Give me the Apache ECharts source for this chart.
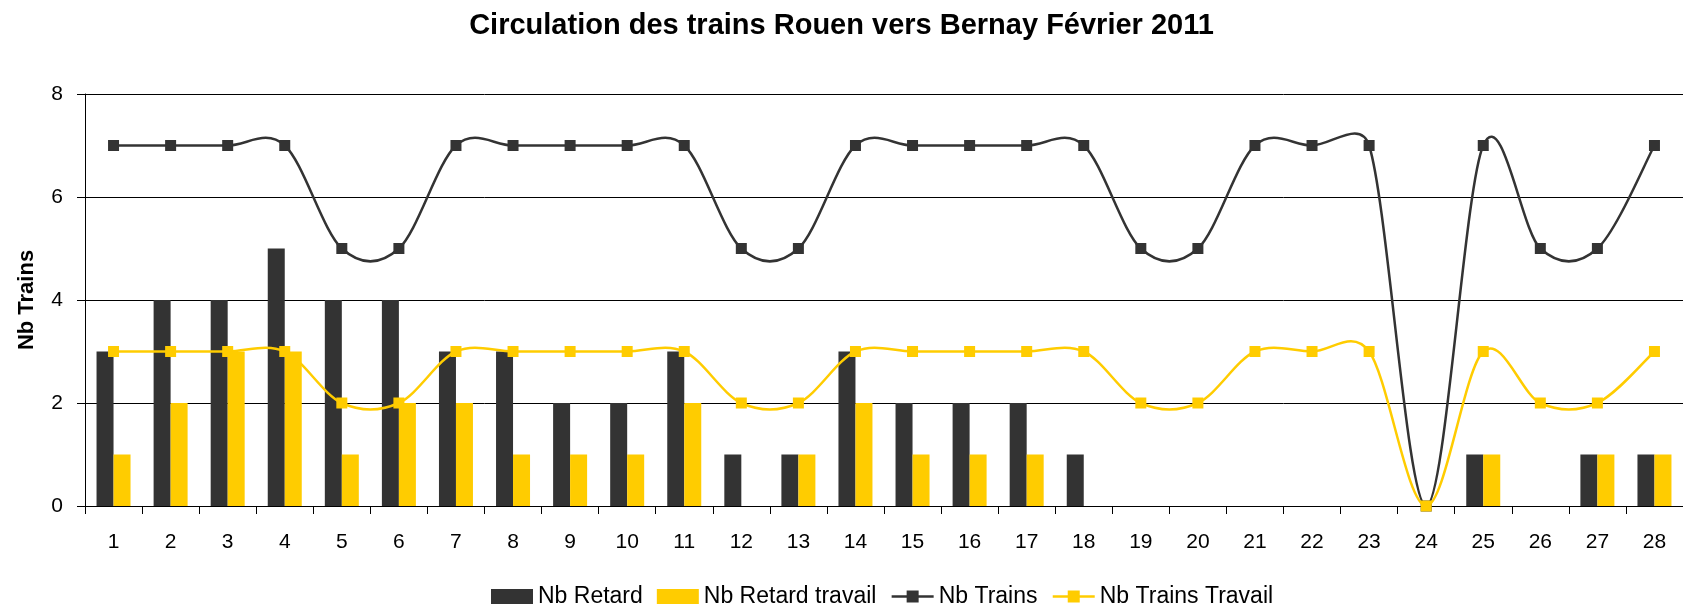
<!DOCTYPE html>
<html>
<head>
<meta charset="utf-8">
<script src="https://cdn.jsdelivr.net/npm/echarts@6/dist/echarts.min.js"></script>
<style>
html,body{margin:0;padding:0;background:#fff;}
#chart{width:1683px;height:607px;}
</style>
</head>
<body>
<div id="chart"></div>
<script>
var days = ['1','2','3','4','5','6','7','8','9','10','11','12','13','14','15','16','17','18','19','20','21','22','23','24','25','26','27','28'];
var nbRetard        = [3,4,4,5,4,4,3,3,2,2,3,1,1,3,2,2,2,1,0,0,0,0,0,0,1,0,1,1];
var nbRetardTravail = [1,2,3,3,1,2,2,1,1,1,2,0,1,2,1,1,1,0,0,0,0,0,0,0,1,0,1,1];
var nbTrains        = [7,7,7,7,5,5,7,7,7,7,7,5,5,7,7,7,7,7,5,5,7,7,7,0,7,5,5,7];
var nbTrainsTravail = [3,3,3,3,2,2,3,3,3,3,3,2,2,3,3,3,3,3,2,2,3,3,3,0,3,2,2,3];
var yTicks = [0,2,4,6,8];

var FONT = 'Liberation Sans, Arial, sans-serif';
var DARK = '#333333';
var YELLOW = '#FFCC00';

// Excel-like smoothed segment from point i to i+1, positioned by the chart's own scales
function clampVec(vx, vy, maxLen) {
  var len = Math.sqrt(vx * vx + vy * vy);
  if (len > maxLen && len > 0) {
    var s = maxLen / len;
    return [vx * s, vy * s];
  }
  return [vx, vy];
}
function smoothSegment(values, color) {
  return function (params, api) {
    var i = params.dataIndex;
    var n = values.length;
    if (i >= n - 1) return null;
    var p0 = api.coord([Math.max(i - 1, 0), values[Math.max(i - 1, 0)]]);
    var p1 = api.coord([i, values[i]]);
    var p2 = api.coord([i + 1, values[i + 1]]);
    var p3 = api.coord([Math.min(i + 2, n - 1), values[Math.min(i + 2, n - 1)]]);
    var segLen = Math.sqrt((p2[0] - p1[0]) * (p2[0] - p1[0]) + (p2[1] - p1[1]) * (p2[1] - p1[1]));
    var maxLen = segLen * 0.5;
    var a = clampVec((p2[0] - p0[0]) / 6, (p2[1] - p0[1]) / 6, maxLen);
    var b = clampVec((p3[0] - p1[0]) / 6, (p3[1] - p1[1]) / 6, maxLen);
    return {
      type: 'bezierCurve',
      shape: {
        x1: p1[0], y1: p1[1],
        cpx1: p1[0] + a[0], cpy1: p1[1] + a[1],
        cpx2: p2[0] - b[0], cpy2: p2[1] - b[1],
        x2: p2[0], y2: p2[1]
      },
      style: {stroke: color, lineWidth: 2.5, fill: null}
    };
  };
}

var legendIconStyle = function (color) {
  return {lineStyle: {color: color, width: 2.5, opacity: 1}};
};

var chart = echarts.init(document.getElementById('chart'));
chart.setOption({
  animation: false,
  backgroundColor: '#ffffff',
  title: {
    text: 'Circulation des trains Rouen vers Bernay Février 2011',
    left: 'center',
    top: 6,
    textStyle: {fontFamily: FONT, fontSize: 29, fontWeight: 'bold', color: '#000'}
  },
  legend: {
    left: 486,
    top: 580,
    itemGap: 14,
    itemWidth: 42,
    itemHeight: 15,
    textStyle: {fontFamily: FONT, fontSize: 23, color: '#000'},
    data: [
      {name: 'Nb Retard', icon: 'rect'},
      {name: 'Nb Retard travail', icon: 'rect'},
      Object.assign({name: 'Nb Trains'}, legendIconStyle(DARK)),
      Object.assign({name: 'Nb Trains Travail'}, legendIconStyle(YELLOW))
    ]
  },
  grid: {left: 85, right: 0, top: 94, bottom: 101, containLabel: false},
  xAxis: {
    type: 'category',
    data: days,
    boundaryGap: true,
    axisLine: {show: true, lineStyle: {color: '#000', width: 1}},
    axisTick: {show: true, length: 8, lineStyle: {color: '#000'}},
    axisLabel: {fontFamily: FONT, fontSize: 21, color: '#000', margin: 26, interval: 0}
  },
  yAxis: {
    type: 'value',
    min: yTicks[0],
    max: yTicks[yTicks.length - 1],
    interval: 2,
    name: 'Nb Trains',
    nameLocation: 'middle',
    nameGap: 47,
    nameTextStyle: {fontFamily: FONT, fontSize: 22, fontWeight: 'bold', color: '#000'},
    axisLine: {show: true, lineStyle: {color: '#000', width: 1}},
    axisTick: {show: true, length: 8, lineStyle: {color: '#000'}},
    axisLabel: {fontFamily: FONT, fontSize: 21, color: '#000', margin: 22},
    splitLine: {show: true, lineStyle: {color: '#000', width: 1}}
  },
  series: [
    {
      name: 'Nb Retard', type: 'bar', data: nbRetard,
      barWidth: 17, barGap: '0%',
      itemStyle: {color: DARK}
    },
    {
      name: 'Nb Retard travail', type: 'bar', data: nbRetardTravail,
      barWidth: 17, barGap: '0%',
      itemStyle: {color: YELLOW}
    },
    {
      name: 'Nb Trains courbe', type: 'custom', data: nbTrains,
      renderItem: smoothSegment(nbTrains, DARK), z: 3, silent: true
    },
    {
      name: 'Nb Trains', type: 'line', data: nbTrains,
      symbol: 'rect', symbolSize: 11, showAllSymbol: true, z: 4,
      lineStyle: {color: DARK, width: 2.5, opacity: 0},
      itemStyle: {color: DARK}
    },
    {
      name: 'Nb Trains Travail courbe', type: 'custom', data: nbTrainsTravail,
      renderItem: smoothSegment(nbTrainsTravail, YELLOW), z: 5, silent: true
    },
    {
      name: 'Nb Trains Travail', type: 'line', data: nbTrainsTravail,
      symbol: 'rect', symbolSize: 11, showAllSymbol: true, z: 6,
      lineStyle: {color: YELLOW, width: 2.5, opacity: 0},
      itemStyle: {color: YELLOW}
    }
  ]
});
</script>
</body>
</html>
